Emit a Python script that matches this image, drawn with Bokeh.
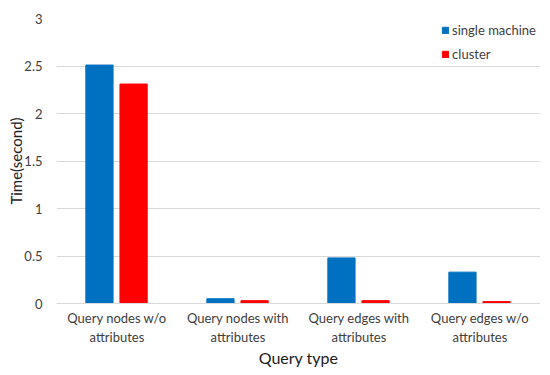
from bokeh.plotting import figure
from bokeh.models import ColumnDataSource, FixedTicker, Legend, LegendItem
from bokeh.transform import dodge
from bokeh.embed import file_html
from bokeh.resources import INLINE

categories = ["Query nodes w/o\nattributes", "Query nodes with\nattributes",
              "Query edges with\nattributes", "Query edges w/o\nattributes"]
single_machine = [2.51, 0.05, 0.48, 0.33]
cluster = [2.31, 0.03, 0.03, 0.02]
y_ticks = [0, 0.5, 1, 1.5, 2, 2.5, 3]

FONT = "Lato"
xs = list(range(len(categories)))
src = ColumnDataSource(dict(x=xs, single=single_machine, cluster=cluster))

p = figure(frame_width=484, frame_height=285, output_backend="svg", toolbar_location=None,
           x_range=(-0.5, len(categories) - 0.5), y_range=(0, 3),
           min_border_left=56, min_border_right=0, min_border_top=18, min_border_bottom=0)
p.outline_line_color = None

r1 = p.vbar(x=dodge("x", -0.145, range=p.x_range), top="single", width=0.225,
            source=src, color="#0070C0")
r2 = p.vbar(x=dodge("x", 0.137, range=p.x_range), top="cluster", width=0.225,
            source=src, color="#FF0000")

p.xaxis.ticker = FixedTicker(ticks=xs)
p.xaxis.major_label_overrides = {i: c for i, c in enumerate(categories)}
p.yaxis.ticker = FixedTicker(ticks=y_ticks)
p.xgrid.visible = False
p.ygrid.grid_line_color = "#D9D9D9"
p.ygrid.ticker = FixedTicker(ticks=y_ticks)

for ax in (p.xaxis[0], p.yaxis[0]):
    ax.major_tick_line_color = None
    ax.minor_tick_line_color = None
    ax.major_label_text_font = FONT
    ax.major_label_text_font_size = "13px"
    ax.major_label_text_color = "#404040"
    ax.axis_label_text_font = FONT
    ax.axis_label_text_font_style = "normal"
    ax.axis_label_text_color = "#202020"
p.yaxis.axis_line_color = None
p.xaxis.axis_line_color = "#D9D9D9"
p.xaxis.axis_label = "Query type"
p.xaxis.axis_label_text_font_size = "16px"
p.yaxis.axis_label = "Time(second)"
p.yaxis.axis_label_text_font_size = "15px"
p.yaxis.major_label_standoff = 8
p.yaxis.axis_label_standoff = -4
p.xaxis.major_label_standoff = 0
p.xaxis.axis_label_standoff = 0

legend = Legend(items=[LegendItem(label="single machine", renderers=[r1]),
                       LegendItem(label="cluster", renderers=[r2])],
                location="top_right", border_line_color=None, background_fill_alpha=0,
                label_text_font=FONT, label_text_font_size="13px", label_text_color="#404040",
                glyph_width=8, glyph_height=8, spacing=8, label_standoff=3,
                label_width=78, margin=4, padding=0)
p.add_layout(legend)

open("out.html", "w").write(file_html(p, INLINE))
